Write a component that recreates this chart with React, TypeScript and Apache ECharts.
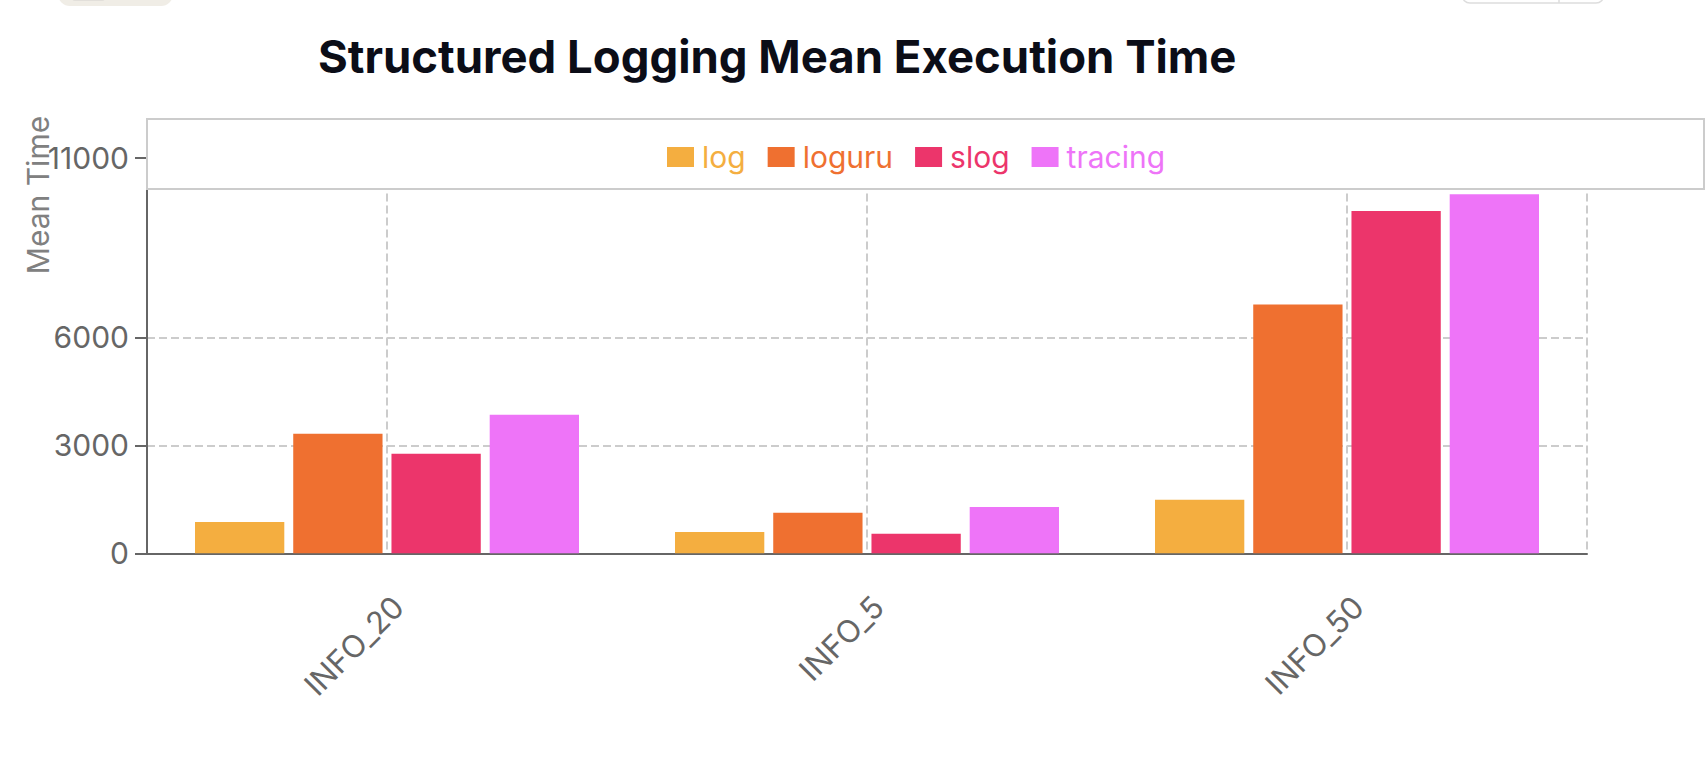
import React, { useEffect, useRef } from 'react';
import * as echarts from 'echarts';

const categories = ['INFO_20', 'INFO_5', 'INFO_50'];
const seriesNames = ['log', 'loguru', 'slog', 'tracing'];
const logValues = [870, 595, 1485];
const loguruValues = [3320, 1125, 6915];
const slogValues = [2770, 540, 9510];
const tracingValues = [3850, 1290, 9980];
const yTickValues = [0, 3000, 6000, 11000];
const xGridValues = [0, 1, 2, 2.5];
const colors = ['#f4ae40', '#ef7030', '#ec356b', '#ee74f8'];

const FONT = 'Inter';

export default function App() {
  const ref = useRef<HTMLDivElement>(null);
  useEffect(() => {
    if (!ref.current) return;
    const chart = echarts.init(ref.current, null, { renderer: 'svg' });
    const values = [logValues, loguruValues, slogValues, tracingValues];
    chart.setOption({
      animation: false,
      backgroundColor: '#ffffff',
      title: {
        text: 'Structured Logging Mean Execution Time',
        left: 318,
        top: 33,
        padding: 0,
        textStyle: { fontFamily: FONT, fontSize: 45.5, fontWeight: 'bold', color: '#0b0d17' },
      },
      graphic: [
        { type: 'rect', shape: { x: 58, y: -20, width: 115, height: 26, r: 12 }, style: { fill: '#f0ede6' }, z: 1 },
        { type: 'rect', shape: { x: 72, y: -10, width: 33, height: 11, r: 3 }, style: { fill: '#e2dfda' }, z: 1 },
        { type: 'rect', shape: { x: 1462, y: -20, width: 142, height: 23, r: 8 }, style: { fill: '#ffffff', stroke: '#dddddd', lineWidth: 1.5 }, z: 1 },
        { type: 'line', shape: { x1: 1559, y1: -5, x2: 1559, y2: 3 }, style: { stroke: '#dddddd', lineWidth: 1.5 }, z: 1 },
        { type: 'rect', shape: { x: 147, y: 119, width: 1557, height: 70 }, style: { fill: '#ffffff', stroke: '#cccccc', lineWidth: 2 }, z: 3 },
        {
          type: 'text',
          x: 37.5,
          y: 195,
          rotation: Math.PI / 2,
          style: { text: 'Mean Time', fontFamily: FONT, fontSize: 30, fill: '#808080', align: 'center', verticalAlign: 'middle' },
          z: 5,
        },
      ],
      legend: {
        left: 667,
        top: 142,
        padding: 0,
        icon: 'rect',
        itemWidth: 27,
        itemHeight: 20,
        itemGap: 22,
        z: 6,
        textStyle: { fontFamily: FONT, fontSize: 30, padding: [0, 0, 0, 3] },
        data: seriesNames.map((n, i) => ({ name: n, textStyle: { color: colors[i] } })),
      },
      grid: { left: 147, right: 119, top: 157.5, bottom: 214.7, containLabel: false },
      xAxis: [
        {
          type: 'category',
          data: categories,
          boundaryGap: true,
          axisLine: { lineStyle: { color: '#666666', width: 2 } },
          axisTick: { alignWithLabel: true, length: 12, lineStyle: { color: '#666666', width: 2 } },
          axisLabel: {
            rotate: 45,
            margin: 37,
            align: 'right',
            verticalAlign: 'top',
            fontFamily: FONT,
            fontSize: 31,
            color: '#666666',
          },
          splitLine: { show: false },
        },
        {
          type: 'value',
          min: -0.5,
          max: 2.5,
          position: 'bottom',
          axisLine: { show: false },
          axisLabel: { show: false },
          axisTick: { show: false, customValues: xGridValues },
          splitLine: { show: true, lineStyle: { color: '#cccccc', width: 2, type: [8, 4] } },
        },
      ],
      yAxis: {
        type: 'value',
        min: 0,
        max: 11000,
        axisLine: { show: true, onZero: false, lineStyle: { color: '#666666', width: 2 } },
        axisTick: { show: true, length: 12, customValues: yTickValues, lineStyle: { color: '#666666', width: 2 } },
        axisLabel: {
          customValues: yTickValues,
          margin: 18,
          fontFamily: FONT,
          fontSize: 30,
          color: '#666666',
          formatter: (v: number) => String(v),
        },
        splitLine: { show: true, lineStyle: { color: '#cccccc', width: 2, type: [8, 4] } },
      },
      series: seriesNames.map((n, i) => ({
        name: n,
        type: 'bar',
        xAxisIndex: 0,
        data: values[i],
        barCategoryGap: '20%',
        barGap: '10%',
        itemStyle: { color: colors[i] },
      })),
    });
    return () => chart.dispose();
  }, []);
  return <div ref={ref} style={{ position: 'fixed', left: 0, top: 0, width: 1706, height: 768 }} />;
}
